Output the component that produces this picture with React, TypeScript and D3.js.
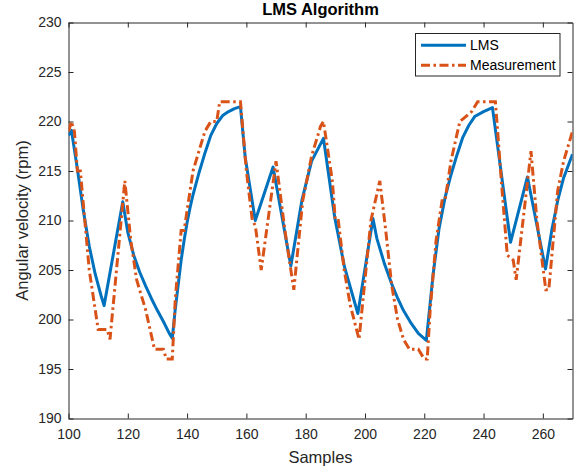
import React, { useRef, useEffect } from "react";
import * as d3 from "d3";

const xTicks = [100, 120, 140, 160, 180, 200, 220, 240, 260];
const yTicks = [190, 195, 200, 205, 210, 215, 220, 225, 230];
const seriesNames = ["LMS", "Measurement"];

const measSamples = [
  100, 101, 102, 103, 104, 107, 110, 113, 114, 119, 121, 123, 126, 129, 132, 133, 135, 136, 138, 139,
  142, 144, 146, 148, 150, 151, 158, 160, 162, 163, 165, 170, 173, 176, 179, 182, 185, 186, 189, 190,
  191, 193, 195, 198, 202, 205, 207, 209, 211, 213, 215, 218, 220, 221, 222, 224, 226, 227, 229, 232,
  234, 236, 238, 244, 246, 248, 250, 251, 256, 258, 261, 262, 265, 267, 270,
];
const measValues = [
  219, 220, 219, 215, 215, 205, 199, 199, 198, 214, 208, 204, 201, 197, 197, 196, 196, 202, 209, 209,
  215, 217, 219, 220, 220, 222, 222, 215, 210, 209.5, 205, 216, 209, 203, 212, 216.5, 219.5, 220, 214, 210,
  210, 205, 201.5, 198, 210, 214, 209, 203.5, 200, 198, 197, 197, 196, 196, 201, 208, 212, 212, 216, 220,
  220.5, 221, 222, 222, 214, 206.5, 206, 204, 217, 210, 203, 203, 213, 216, 219,
];

// LMS estimate
const lmsSamples = [
  100, 101, 103, 105, 107, 109, 111, 112, 118.3, 120, 122, 124, 126, 128, 130, 132, 134, 135, 136, 137,
  138, 139, 140, 141, 142, 143, 144, 145, 146, 148, 150, 152, 154, 156, 158, 159.6, 163, 169, 175, 178.7,
  182, 186, 189.8, 193.1, 197.6, 202.7, 204, 206.6, 209, 211.1, 213, 215.6, 218, 220.7, 223, 225,
  227, 229, 231, 233, 235, 237, 240, 243, 249.1, 254.8, 260.9, 263, 265, 267, 270,
];
const lmsValues = [
  218.6, 219.1, 215.2, 211, 207.4, 204.6, 202.4, 201.4, 211.9, 208.8, 206.5, 204.8, 203.4, 202.1, 200.9, 199.8, 198.6, 198.1, 201, 203.5,
  206, 208, 209.8, 211.3, 212.6, 213.7, 214.8, 215.8, 216.8, 218.6, 219.8, 220.6, 221, 221.3, 221.5, 216.4, 210, 215.4, 205.4, 212,
  216, 218.3, 210.3, 205.3, 200.6, 210.2, 208.2, 205.6, 203.6, 202.1, 200.9, 199.6, 198.6, 197.9, 204.6, 209.2,
  212.3, 214.6, 216.6, 218.4, 219.6, 220.5, 221, 221.4, 207.8, 214.4, 205.1, 209, 212, 214.3, 216.7,
];

const App = () => {
  const chart = useRef<SVGSVGElement>(null);

  useEffect(() => {
    const svg = d3.select(chart.current);
    svg.selectAll("*").remove();

    const left = 68.5, right = 572.5, top = 22.5, bottom = 418.5;
    const font = "'Liberation Sans', Arial, sans-serif";
    const ink = "#262626";

    const x = d3.scaleLinear().domain([100, 270]).range([left, right]);
    const y = d3.scaleLinear().domain([190, 230]).range([bottom, top]);

    svg.append("rect").attr("width", 584).attr("height", 472).attr("fill", "#fff");

    svg.append("defs").append("clipPath").attr("id", "plotClip")
      .append("rect").attr("x", left).attr("y", top).attr("width", right - left).attr("height", bottom - top);

    const styleAxis = (g) => {
      g.attr("font-family", font).attr("font-size", 14);
      g.select(".domain").attr("stroke", ink);
      g.selectAll(".tick line").attr("stroke", ink);
      g.selectAll(".tick text").attr("fill", ink);
    };

    svg.append("g").attr("transform", `translate(0,${bottom})`)
      .call(d3.axisBottom(x).tickValues(xTicks).tickSizeInner(-5).tickSizeOuter(0).tickPadding(11))
      .call(styleAxis);
    svg.append("g").attr("transform", `translate(0,${top})`)
      .call(d3.axisTop(x).tickValues(xTicks).tickSizeInner(-5).tickSizeOuter(0).tickFormat(() => ""))
      .call(styleAxis);
    svg.append("g").attr("transform", `translate(${left},0)`)
      .call(d3.axisLeft(y).tickValues(yTicks).tickSizeInner(-5).tickSizeOuter(0).tickPadding(7))
      .call(styleAxis);
    svg.append("g").attr("transform", `translate(${right},0)`)
      .call(d3.axisRight(y).tickValues(yTicks).tickSizeInner(-5).tickSizeOuter(0).tickFormat(() => ""))
      .call(styleAxis);

    const lmsData = lmsSamples.map((s, i) => [s, lmsValues[i]]);
    const measData = measSamples.map((s, i) => [s, measValues[i]]);
    const line = d3.line().x(d => x(d[0])).y(d => y(d[1]));

    const plot = svg.append("g").attr("clip-path", "url(#plotClip)");
    plot.append("path").datum(lmsData)
      .attr("d", line).attr("fill", "none").attr("stroke", "#0072BD")
      .attr("stroke-width", 3).attr("stroke-linejoin", "round");
    plot.append("path").datum(measData)
      .attr("d", line).attr("fill", "none").attr("stroke", "#D95319")
      .attr("stroke-width", 3).attr("stroke-dasharray", "9,3.5,2.5,3.5");

    // title and labels
    svg.append("text").attr("x", (left + right) / 2).attr("y", 15)
      .attr("text-anchor", "middle").attr("font-family", font).attr("font-size", 16.5)
      .attr("font-weight", "bold").attr("fill", "#000").text("LMS Algorithm");
    svg.append("text").attr("x", (left + right) / 2).attr("y", 463)
      .attr("text-anchor", "middle").attr("font-family", font).attr("font-size", 16.5)
      .attr("fill", ink).text("Samples");
    svg.append("text").attr("transform", `translate(28,${(top + bottom) / 2}) rotate(-90)`)
      .attr("text-anchor", "middle").attr("font-family", font).attr("font-size", 16.5)
      .attr("fill", ink).text("Angular velocity (rpm)");

    // legend
    const legend = svg.append("g");
    legend.append("rect").attr("x", 415.5).attr("y", 33.5).attr("width", 144.5).attr("height", 42.5)
      .attr("fill", "#fff").attr("stroke", ink).attr("stroke-width", 1);
    const colors = ["#0072BD", "#D95319"];
    const dashes = [null, "9,3.5,2.5,3.5"];
    seriesNames.forEach((name, i) => {
      const ly = 45.3 + i * 20;
      legend.append("line").attr("x1", 421).attr("x2", 466).attr("y1", ly).attr("y2", ly)
        .attr("stroke", colors[i]).attr("stroke-width", 3).attr("stroke-dasharray", dashes[i]);
      legend.append("text").attr("x", 470).attr("y", ly + 5).attr("font-family", font)
        .attr("font-size", 14).attr("fill", "#000").text(name);
    });
  }, []);

  return (
    <svg ref={chart} width={584} height={472} style={{ position: "absolute", left: 0, top: 0 }}></svg>
  );
};

export default App;
